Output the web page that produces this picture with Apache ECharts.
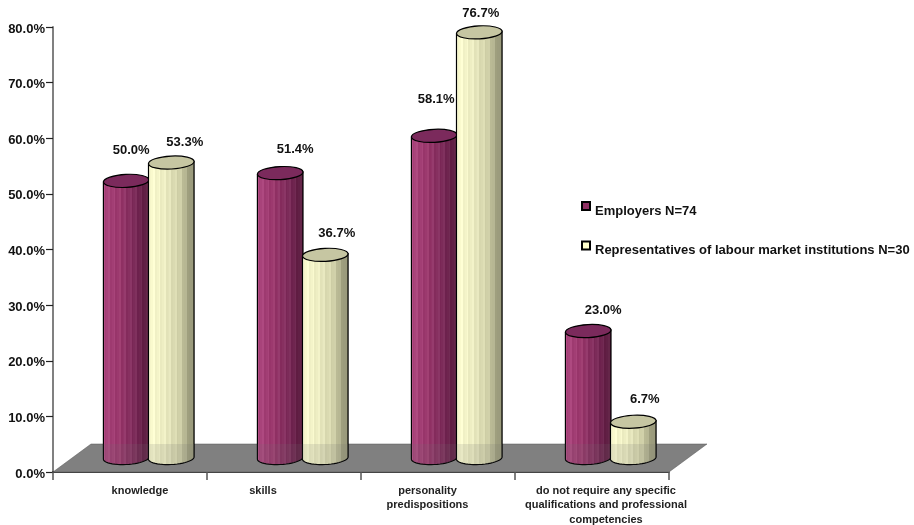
<!DOCTYPE html>
<html><head><meta charset="utf-8">
<style>html,body{margin:0;padding:0;background:#fff}#c{width:914px;height:525px}</style>
<script src="https://cdn.jsdelivr.net/npm/echarts@6/dist/echarts.min.js"></script>
</head><body><div id="c"></div>
<script>
const categories = ['knowledge','skills','personality\npredispositions','do not require any specific\nqualifications and professional\ncompetencies'];
const employers = [50.0,51.4,58.1,23.0];
const representatives = [53.3,36.7,76.7,6.7];
const seriesNames = ['Employers N=74','Representatives of labour market institutions N=30'];

// layout only: nudges of the labels, in pixels
const catLabelShift = [10,-21,-10.5,14];
const labelNudge = [
  [[5,-30.5],[15,-23.5],[2,-36.5],[15,-20.5]],
  [[13,-20.5],[11,-21.5],[1,-18.5],[11,-22.5]]
];
const DEPTH_X = 19, DEPTH_Y = 13, RY = 6.5, WIDTH_RATIO = 0.296, TILT = 0.05;

function stripes(stops){
  const n = 26, out = [];
  const lerp=(a,b,t)=>a+(b-a)*t;
  for(let i=0;i<n;i++){
    const t=i/(n-1);
    let k=0; while(k<stops.length-2 && t>stops[k+1][0]) k++;
    const s=stops[k],e=stops[k+1],u=(t-s[0])/(e[0]-s[0]);
    const bump=(i%3===0?10:(i%3===1?-4:2));
    const c=[1,2,3].map(j=>Math.max(0,Math.min(255,Math.round(lerp(s[j],e[j],u)+bump))));
    const col=`rgb(${c.join(',')})`;
    out.push({offset:i/n,color:col},{offset:(i+1)/n,color:col});
  }
  return {type:'linear',x:0,y:0,x2:1,y2:0,colorStops:out};
}
const fills = [
  stripes([[0,170,68,124],[.35,152,54,106],[.7,120,40,86],[1,86,26,60]]),
  stripes([[0,252,252,208],[.35,234,234,192],[.7,204,204,164],[1,136,136,108]])
];
const topFill = ['#7b2a5c','#c6c6a2'];
const legendColor = ['#8f2f62','#ffffcc'];

function cylinder(which){
  return function(params, api){
    const i = api.value(0), v = api.value(1);
    const base = api.coord([i,0]), top = api.coord([i,v]);
    const band = api.size([1,0])[0];
    const w = band*WIDTH_RATIO, rx = w/2;
    const x = base[0]+DEPTH_X+(which===0?-w:-0.5), cx = x+rx;
    const yb = base[1]-DEPTH_Y-1, yt = top[1]-DEPTH_Y;
    const arc=(cy)=>{const p=[];for(let k=0;k<=24;k++){const a=Math.PI*k/24;const px=cx+rx*Math.cos(a);p.push([px,cy+RY*Math.sin(a)-(px-cx)*TILT]);}return p;};
    const floorBack = base[1]-28;
    const body = [[x,yt+rx*TILT],[x+w,yt-rx*TILT]].concat(arc(yb));
    const under = [[x,floorBack],[x+w,floorBack]].concat(arc(yb));
    return {type:'group',children:[
      {type:'polygon',shape:{points:body},style:{fill:fills[which],stroke:'#000',lineWidth:1.2}},
      {type:'polygon',shape:{points:under},style:{fill:'rgba(110,110,110,0.16)',stroke:null}},
      {type:'ellipse',shape:{cx:cx,cy:yt,rx:rx,ry:RY},x:0,y:0,rotation:TILT,originX:cx,originY:yt,
        style:{fill:topFill[which],stroke:'#000',lineWidth:1.2}}
    ]};
  };
}
function floor(params, api){
  const g = params.coordSys, dx=38, dy=28;
  const x0=g.x, x1=g.x+g.width, y=g.y+g.height;
  return {type:'polygon',shape:{points:[[x0,y],[x1,y],[x1+dx,y-dy],[x0+dx,y-dy]]},
    style:{fill:'#808080',stroke:'#555',lineWidth:0.5}};
}
function mkSeries(which, vals){
  return {
    type:'custom', name:seriesNames[which], coordinateSystem:'cartesian2d', clip:false, z:3+which,
    itemStyle:{color:legendColor[which],borderColor:'#000',borderWidth:1},
    encode:{x:0,y:1}, renderItem:cylinder(which),
    data:vals.map((v,i)=>[i,v])
  };
}
function valueLabels(which, vals){
  return {
    type:'custom', coordinateSystem:'cartesian2d', clip:false, z:6, silent:true, legendHoverLink:false,
    encode:{x:0,y:1},
    renderItem:(params,api)=>{
      const i=api.value(0), v=api.value(1);
      const base=api.coord([i,0]), top=api.coord([i,v]);
      const w=api.size([1,0])[0]*WIDTH_RATIO;
      const cx=base[0]+DEPTH_X+(which===0?-w/2:w/2);
      const n=labelNudge[which][i];
      return {type:'text',style:{text:v.toFixed(1)+'%',x:cx+n[0],y:top[1]-DEPTH_Y+n[1],
        align:'center',verticalAlign:'middle',font:'bold 13px "Liberation Sans"',fill:'#111'}};
    },
    data:vals.map((v,i)=>[i,v])
  };
}

const chart = echarts.init(document.getElementById('c'),null,{renderer:'canvas'});
chart.setOption({
  animation:false,
  backgroundColor:'#fff',
  grid:{left:53,right:245,top:27,bottom:53,containLabel:false,outerBoundsMode:'none'},
  legend:{
    data:seriesNames, orient:'vertical', left:576, top:196, itemGap:23, itemWidth:8, itemHeight:8,
    icon:'rect', selectedMode:false,
    formatter:n=>'{a|'+n+'}',
    textStyle:{color:'#111',rich:{a:{fontFamily:'Liberation Sans',fontWeight:'bold',fontSize:13,color:'#111',padding:[10,0,0,0]}}}
  },
  xAxis:{
    type:'category', data:categories.map((c,i)=>({value:c,textStyle:{
      padding: catLabelShift[i]>0?[0,0,0,2*catLabelShift[i]]:[0,-2*catLabelShift[i],0,0]}})),
    boundaryGap:true,
    axisLine:{show:true,lineStyle:{color:'#000',width:1.5}},
    axisTick:{show:true,alignWithLabel:false,length:8,lineStyle:{color:'#555',width:1.5}},
    axisLabel:{interval:0,margin:11.5,fontFamily:'Liberation Sans',fontWeight:'bold',fontSize:11,lineHeight:14.5,color:'#222',hideOverlap:false}
  },
  yAxis:{
    type:'value', min:0,max:80,interval:10,
    axisLine:{show:true,lineStyle:{color:'#808080',width:2}},
    axisTick:{show:true,length:7,lineStyle:{color:'#222',width:1.2}},
    splitLine:{show:false},
    axisLabel:{margin:8,formatter:v=>'{a|'+v.toFixed(1)+'%}',rich:{a:{fontFamily:'Liberation Sans',fontWeight:'bold',fontSize:13,color:'#111',padding:[4,0,0,0]}}}
  },
  series:[
    {type:'custom',coordinateSystem:'cartesian2d',clip:false,z:1,silent:true,renderItem:floor,data:[[0,0]],encode:{x:0,y:1}},
    mkSeries(0,employers),mkSeries(1,representatives),valueLabels(0,employers),valueLabels(1,representatives)
  ]
});
</script></body></html>
